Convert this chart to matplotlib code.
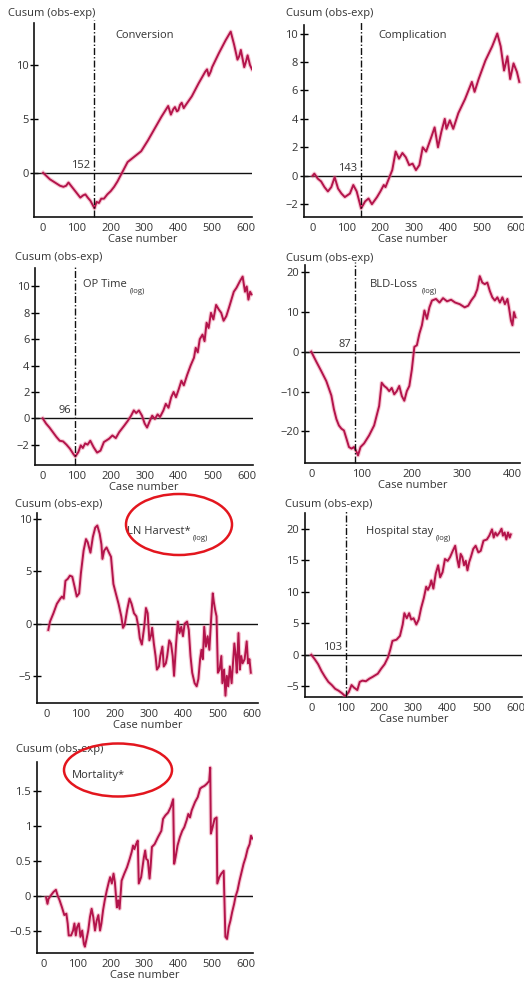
import matplotlib
matplotlib.use("Agg")
import matplotlib.pyplot as plt
from matplotlib.patches import Ellipse

plt.rcParams["font.family"] = ["Open Sans", "DejaVu Sans"]

# ---------------- data ----------------
case_ticks_600 = [0, 100, 200, 300, 400, 500, 600]
case_ticks_400 = [0, 100, 200, 300, 400]

# Conversion
conv_x = [0, 10, 20, 30, 40, 50, 60, 68, 75, 85, 100, 110, 118, 125, 132, 140, 152,
          158, 165, 172, 180, 190, 200, 210, 220, 235, 250, 270, 290, 310, 330, 350,
          370, 378, 385, 390, 396, 400, 405, 410, 416, 420, 440, 460, 480, 485, 490,
          496, 500, 520, 540, 555, 565, 575, 580, 585, 595, 600, 605, 612, 618]
conv_y = [0.0, -0.3, -0.6, -0.8, -1.0, -1.2, -1.3, -1.2, -0.9, -1.3, -1.9, -2.3,
          -2.1, -2.0, -2.3, -2.6, -3.3, -2.7, -2.8, -2.4, -2.4, -2.0, -1.7, -1.3,
          -0.8, 0.1, 1.0, 1.5, 2.0, 3.0, 4.1, 5.2, 6.2, 5.4, 5.9, 6.1, 5.7, 5.8, 6.3,
          6.5, 6.0, 6.2, 7.1, 8.3, 9.4, 9.6, 9.0, 9.4, 9.8, 11.1, 12.3, 13.1, 11.9,
          10.5, 10.8, 11.4, 9.8, 10.3, 10.9, 10.0, 9.6]
conv_turn = 152

# Complication
comp_x = [0, 5, 15, 25, 35, 45, 55, 65, 75, 85, 95, 110, 120, 130, 143, 155, 165,
          175, 190, 200, 210, 215, 225, 235, 245, 255, 265, 275, 285, 295, 305, 315,
          325, 335, 350, 360, 370, 380, 390, 395, 405, 415, 430, 450, 470, 478, 490,
          510, 530, 545, 555, 565, 575, 583, 593, 603, 610]
comp_y = [0.0, 0.15, -0.2, -0.4, -0.8, -1.1, -0.8, -0.1, -0.9, -1.25, -1.5, -1.25,
          -0.65, -1.1, -2.3, -1.8, -1.6, -2.0, -1.5, -1.1, -0.65, -0.8, -0.2, 0.4,
          1.7, 1.2, 1.6, 1.3, 0.75, 0.85, 0.4, 0.75, 2.0, 1.7, 2.7, 3.4, 2.0, 3.1,
          4.0, 3.3, 3.9, 3.3, 4.4, 5.4, 6.6, 5.9, 6.8, 8.1, 9.1, 10.0, 9.1, 7.4, 8.4,
          6.8, 7.9, 7.3, 6.6]
comp_turn = 143

# OP time (log)
opt_x = [0, 10, 20, 30, 40, 50, 60, 70, 80, 90, 96, 105, 112, 118, 125, 132, 140,
         150, 160, 170, 180, 195, 205, 215, 225, 240, 250, 260, 268, 275, 283, 292,
         300, 307, 315, 322, 330, 338, 345, 355, 362, 370, 378, 385, 392, 400, 408,
         415, 425, 435, 445, 450, 456, 462, 470, 476, 482, 488, 495, 502, 510, 518,
         525, 532, 540, 548, 555, 562, 570, 580, 588, 595, 600, 605, 610, 614]
opt_y = [0.0, -0.4, -0.7, -1.05, -1.4, -1.7, -1.75, -2.0, -2.3, -2.7, -2.9, -2.55,
         -2.05, -2.25, -1.9, -2.0, -1.7, -2.2, -2.6, -2.45, -1.8, -1.55, -1.3, -1.5,
         -1.05, -0.55, -0.2, 0.2, 0.6, 0.4, 0.6, 0.2, -0.4, -0.7, -0.2, 0.2, -0.05,
         0.3, 0.1, 0.6, 1.1, 0.8, 1.6, 2.0, 1.6, 2.2, 2.85, 2.5, 3.3, 4.0, 4.6, 5.35,
         5.0, 6.0, 6.35, 5.85, 7.25, 6.85, 8.0, 7.5, 8.6, 8.25, 8.0, 7.4, 7.75, 8.4,
         9.0, 9.6, 9.9, 10.4, 10.75, 9.6, 10.0, 9.0, 9.6, 9.4]
opt_turn = 96

# Blood loss (log)
bld_x = [0, 10, 20, 30, 40, 45, 50, 55, 60, 65, 70, 75, 80, 85, 90, 93, 98, 105,
         115, 125, 135, 140, 145, 150, 155, 160, 165, 170, 175, 180, 185, 190, 195,
         200, 205, 210, 215, 220, 225, 230, 235, 240, 248, 255, 262, 270, 278, 286,
         295, 305, 312, 318, 325, 330, 335, 340, 345, 350, 355, 360, 365, 370, 375,
         380, 385, 390, 393, 397, 400, 403, 406]
bld_y = [0.0, -2.5, -4.9, -7.4, -11.0, -14.4, -16.9, -18.5, -19.3, -19.75, -21.8,
         -23.9, -24.3, -23.9, -25.1, -26.0, -23.9, -23.0, -21.0, -18.5, -13.6, -7.8,
         -8.6, -9.1, -9.9, -9.1, -10.7, -9.9, -8.6, -11.1, -12.3, -9.9, -8.6, -4.5,
         1.2, 1.6, 4.5, 6.6, 10.3, 8.2, 11.1, 12.8, 13.2, 12.3, 13.4, 12.6, 13.0,
         12.3, 11.9, 11.1, 11.5, 12.8, 14.0, 15.6, 18.9, 17.3, 16.9, 17.3, 15.2,
         13.6, 12.8, 13.6, 12.3, 13.6, 11.9, 13.2, 11.1, 7.8, 6.6, 9.9, 8.6]
bld_turn = 87

# Lymph node harvest (log)
lnh_x = [5, 10, 20, 30, 40, 45, 50, 55, 62, 68, 75, 82, 88, 95, 100, 108, 115, 120,
         128, 135, 142, 148, 155, 160, 163, 168, 175, 182, 188, 195, 202, 210, 218,
         223, 228, 235, 242, 248, 255, 262, 268, 272, 278, 285, 290, 295, 300, 305,
         308, 313, 318, 322, 328, 332, 338, 342, 348, 352, 358, 363, 368, 372, 378,
         383, 388, 393, 398, 403, 410, 415, 420, 425, 432, 438, 443, 448, 452, 456,
         460, 465, 470, 475, 480, 485, 488, 492, 496, 500, 505, 510, 513, 518, 522,
         526, 530, 535, 540, 544, 548, 552, 555, 560, 564, 568, 572, 578, 584, 588,
         592, 596]
lnh_y = [-0.6, 0.2, 1.0, 1.9, 2.4, 2.6, 2.4, 4.1, 4.3, 4.6, 4.5, 3.5, 2.6, 2.9, 4.8,
         7.0, 8.1, 7.8, 6.8, 8.3, 9.2, 9.4, 8.6, 7.6, 6.2, 7.0, 7.3, 6.8, 6.4, 3.8,
         2.9, 1.9, 0.7, -0.4, -0.1, 1.3, 2.4, 1.9, 1.0, 0.7, -0.3, -1.4, -2.0, -0.3,
         1.5, 1.0, -1.6, -1.1, -0.4, -1.9, -3.1, -4.4, -4.1, -3.1, -2.2, -4.1, -3.8,
         -3.1, -1.6, -1.9, -3.1, -5.0, -1.9, 0.2, -0.9, -0.3, -1.2, 0.0, 0.2, -0.6,
         -3.1, -4.7, -5.7, -6.0, -5.3, -3.4, -2.5, -3.4, -0.3, -2.2, -1.2, -2.5, 0.3,
         2.9, 2.1, 1.3, 0.7, -4.7, -4.4, -3.1, -5.7, -4.4, -6.9, -5.0, -6.0, -4.1,
         -5.7, -3.8, -1.9, -3.1, -4.7, -0.9, -4.4, -3.1, -3.8, -3.4, -1.7, -3.8,
         -3.4, -4.7]

# Hospital stay (log)
hos_x = [0, 10, 20, 30, 40, 50, 60, 70, 80, 90, 100, 110, 118, 125, 135, 142, 150,
         160, 170, 180, 195, 205, 215, 225, 232, 238, 250, 260, 268, 273, 280, 287,
         293, 300, 308, 315, 322, 330, 337, 342, 348, 352, 358, 365, 372, 378, 385,
         392, 400, 407, 415, 422, 428, 433, 438, 443, 448, 453, 458, 463, 468, 475,
         482, 490, 497, 505, 515, 522, 530, 535, 540, 545, 552, 558, 562, 567, 572,
         577, 582, 585]
hos_y = [0.0, -0.7, -1.5, -2.6, -3.5, -4.3, -4.8, -5.4, -5.7, -6.1, -6.6, -5.9,
         -4.8, -5.2, -5.6, -4.3, -4.1, -4.2, -3.8, -3.5, -3.0, -2.2, -1.5, -0.4, 0.9,
         2.2, 2.4, 3.0, 4.8, 6.6, 5.8, 6.6, 5.6, 5.8, 4.8, 5.6, 7.4, 9.0, 10.8, 10.3,
         11.0, 11.8, 10.5, 12.9, 14.2, 12.3, 13.1, 15.2, 14.9, 15.5, 16.5, 17.3, 15.2,
         13.9, 16.0, 15.5, 14.2, 14.9, 13.4, 14.7, 15.5, 16.8, 17.3, 16.25, 16.5,
         18.1, 18.3, 18.9, 19.9, 18.6, 19.4, 18.9, 19.4, 20.0, 18.9, 19.4, 18.3,
         19.4, 18.6, 19.1]
hos_turn = 103

# Mortality
mor_x = [8, 12, 15, 22, 30, 37, 42, 48, 55, 62, 68, 72, 75, 82, 88, 92, 96, 100,
         105, 110, 115, 120, 123, 128, 133, 138, 143, 148, 153, 158, 163, 168, 172,
         177, 182, 188, 194, 198, 203, 208, 212, 218, 222, 226, 232, 240, 248, 256,
         262, 266, 270, 275, 280, 283, 290, 298, 302, 305, 310, 315, 318, 322, 330,
         340, 350, 355, 362, 370, 378, 385, 388, 392, 398, 405, 412, 418, 425, 430,
         435, 440, 450, 458, 465, 470, 478, 485, 492, 495, 497, 502, 508, 514, 516,
         522, 528, 535, 540, 545, 550, 555, 560, 566, 570, 576, 582, 588, 594, 600,
         606, 612, 616, 620]
mor_y = [-0.02, -0.11, -0.04, 0.01, 0.06, 0.09, 0.01, -0.06, -0.16, -0.27, -0.25,
         -0.39, -0.56, -0.56, -0.49, -0.39, -0.56, -0.44, -0.39, -0.58, -0.49, -0.68,
         -0.72, -0.61, -0.49, -0.30, -0.18, -0.30, -0.49, -0.35, -0.27, -0.49, -0.39,
         -0.20, -0.06, 0.08, 0.20, 0.27, 0.18, 0.32, 0.20, -0.16, -0.06, -0.18, 0.22,
         0.32, 0.41, 0.53, 0.63, 0.72, 0.67, 0.74, 0.79, 0.18, 0.27, 0.55, 0.65,
         0.53, 0.51, 0.25, 0.41, 0.70, 0.74, 0.84, 0.93, 1.10, 1.15, 1.19, 1.27,
         1.38, 0.46, 0.55, 0.72, 0.84, 0.93, 0.98, 1.08, 1.17, 1.12, 1.22, 1.34,
         1.41, 1.53, 1.55, 1.57, 1.60, 1.64, 1.83, 0.89, 0.98, 1.10, 1.12, 0.18,
         0.27, 0.32, 0.36, -0.58, -0.61, -0.44, -0.35, -0.23, -0.11, -0.01, 0.08,
         0.22, 0.34, 0.46, 0.55, 0.67, 0.74, 0.86, 0.82]

# ---------------- styling ----------------
W, H = 524, 982
LINE = "#b3144b"
HALO = "#ec7a98"
TXT = "#333333"
FS = 8.0

fig = plt.figure(figsize=(W / 100, H / 100), dpi=100)
fig.patch.set_facecolor("white")


def make_axes(left, right, top, bottom):
    return fig.add_axes([left / W, 1 - bottom / H, (right - left) / W, (bottom - top) / H])


def panel(ax, x, y, xlim, ylim, yticks, ylabels, xticks, name, name_pos,
          sub=None, turn=None, head_pos=(-0.1, 1.02)):
    ax.set_xlim(*xlim)
    ax.set_ylim(*ylim)
    for s in ("top", "right"):
        ax.spines[s].set_visible(False)
    for s in ("left", "bottom"):
        ax.spines[s].set_linewidth(1.2)
        ax.spines[s].set_color("#111111")
    ax.set_yticks(yticks)
    ax.set_yticklabels(ylabels)
    ax.set_xticks(xticks)
    ax.tick_params(axis="y", direction="inout", length=6, width=1.0,
                   labelsize=FS, labelcolor=TXT, pad=1)
    ax.tick_params(axis="x", length=0, labelsize=FS, labelcolor=TXT, pad=4)
    ax.set_xlabel("Case number", fontsize=FS, color=TXT, labelpad=0.5)
    ax.axhline(0, color="#111111", lw=1.0, zorder=2)
    ax.plot(x, y, color=HALO, lw=3.0, alpha=0.4, solid_joinstyle="round", zorder=3)
    ax.plot(x, y, color=LINE, lw=1.4, solid_joinstyle="round", zorder=4)
    if turn is not None:
        ax.plot([turn, turn], [ylim[0], ylim[1] + 0.015 * (ylim[1] - ylim[0])],
                color="#111111", lw=1.0, linestyle=(0, (5, 1.5, 1, 1.5)),
                clip_on=False, zorder=5)
        ax.annotate(str(turn), xy=(turn, 0), xytext=(-3, 1.5),
                    textcoords="offset points", ha="right", va="bottom",
                    fontsize=FS, color=TXT)
    ax.text(head_pos[0], head_pos[1], "Cusum (obs-exp)", transform=ax.transAxes,
            ha="left", va="bottom", fontsize=FS, color=TXT)
    t = ax.text(name_pos[0], name_pos[1], name, transform=ax.transAxes,
                ha="left", va="center", fontsize=FS, color=TXT)
    if sub:
        ax.annotate(sub, xy=(1, 0.2), xycoords=t, xytext=(2, 0),
                    textcoords="offset points", ha="left", va="top",
                    fontsize=FS * 0.7, color=TXT)


ax1 = make_axes(34, 252, 23, 217)
panel(ax1, conv_x, conv_y, (-27, 618), (-4.1, 13.9), [0, 5, 10], ["0", "5", "10"],
      case_ticks_600, "Conversion", (0.372, 0.933), turn=conv_turn,
      head_pos=(-0.119, 1.02))

ax2 = make_axes(303.7, 522, 25, 217)
panel(ax2, comp_x, comp_y, (-26.4, 618), (-2.9, 10.6), [-2, 0, 2, 4, 6, 8, 10],
      ["\u22122", "0", "2", "4", "6", "8", "10"], case_ticks_600, "Complication",
      (0.34, 0.943), turn=comp_turn, head_pos=(-0.081, 1.03))

ax3 = make_axes(35, 253, 268, 465)
panel(ax3, opt_x, opt_y, (-22.6, 618.5), (-3.54, 11.4), [-2, 0, 2, 4, 6, 8, 10],
      ["\u22122", "0", "2", "4", "6", "8", "10"], case_ticks_600, "OP Time",
      (0.219, 0.914), sub="(log)", turn=opt_turn, head_pos=(-0.092, 1.025))

ax4 = make_axes(304.7, 520, 265, 463)
panel(ax4, bld_x, bld_y, (-13, 415), (-27.9, 21.7), [-20, -10, 0, 10, 20],
      ["\u221220", "\u221210", "0", "10", "20"], case_ticks_400, "BLD-Loss",
      (0.305, 0.9), sub="(log)", turn=bld_turn, head_pos=(-0.087, 1.005))

ax5 = make_axes(37, 258, 513, 703)
panel(ax5, lnh_x, lnh_y, (-28, 617), (-7.6, 10.6), [-5, 0, 5, 10],
      ["\u22125", "0", "5", "10"], case_ticks_600, "LN Harvest*",
      (0.406, 0.9), sub="(log)", head_pos=(-0.1, 1.016))

ax6 = make_axes(304.7, 522, 513, 697)
panel(ax6, hos_x, hos_y, (-19.4, 618), (-6.7, 22.5), [-5, 0, 5, 10, 15, 20],
      ["\u22125", "0", "5", "10", "15", "20"], case_ticks_600, "Hospital stay",
      (0.282, 0.898), sub="(log)", turn=hos_turn, head_pos=(-0.092, 1.016))

ax7 = make_axes(36.7, 253, 762, 953)
panel(ax7, mor_x, mor_y, (-20, 622), (-0.81, 1.91), [-0.5, 0, 0.5, 1, 1.5],
      ["\u22120.5", "0", "0.5", "1", "1.5"], case_ticks_600, "Mortality*",
      (0.162, 0.93), head_pos=(-0.097, 1.037))

# red highlight rings
for cx, cy, ew, eh in [(179, 524.5, 106, 61), (118, 770, 108, 53)]:
    fig.patches.append(Ellipse((cx / W, 1 - cy / H), ew / W, eh / H,
                               transform=fig.transFigure, fill=False,
                               edgecolor="#e3161e", lw=1.8, zorder=10))

fig.savefig("out.png", dpi=100, facecolor="white")
